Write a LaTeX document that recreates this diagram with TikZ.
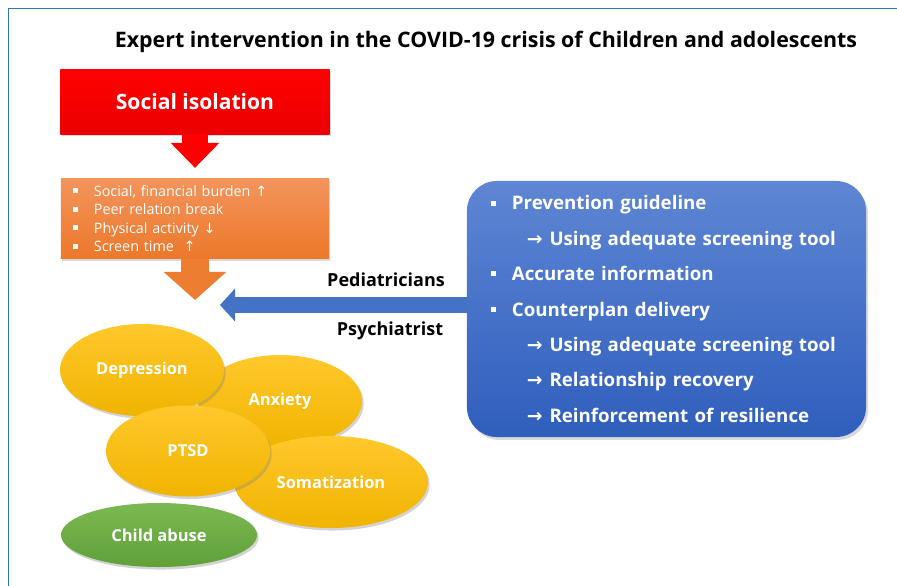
\documentclass[tikz,border=0pt]{standalone}
\usepackage{fontspec}
\setmainfont{Open Sans}
\newfontfamily\arrowfont{DejaVu Sans}
\usetikzlibrary{shapes.geometric, arrows.meta, positioning, shadows}

\definecolor{frameblue}{RGB}{46,117,182}
\definecolor{isored}{RGB}{255,0,0}
\definecolor{isoreddark}{RGB}{235,0,0}
\definecolor{burdentop}{RGB}{243,148,92}
\definecolor{burdenbottom}{RGB}{236,120,42}
\definecolor{burdenarrow}{RGB}{237,125,49}
\definecolor{guidetop}{RGB}{94,134,212}
\definecolor{guidebottom}{RGB}{47,94,188}
\definecolor{guidearrow}{RGB}{68,114,196}
\definecolor{symptomtop}{RGB}{255,200,44}
\definecolor{symptombottom}{RGB}{240,180,0}
\definecolor{abusetop}{RGB}{124,185,82}
\definecolor{abusebottom}{RGB}{96,160,56}

% small square bullet and the indented arrow for sub points
\newcommand{\sqitem}{\rule[0.22em]{3.6pt}{3.6pt}\hspace{11.3pt}}
\newcommand{\nextstep}{\hspace*{25.5pt}{\arrowfont\bfseries →}\hspace{5pt}}

\tikzset{
    symptom/.style={ellipse, inner sep=0pt, top color=symptomtop, bottom color=symptombottom, text=white, font=\bfseries\fontsize{11.7}{14}\selectfont, drop shadow={shadow xshift=1.2pt, shadow yshift=-1.8pt, opacity=0.35}},
    role/.style={font=\bfseries\fontsize{12.8}{15}\selectfont, text=black}
}

\begin{document}
\begin{tikzpicture}[x=0.025cm, y=-0.025cm]
    \useasboundingbox (0,0) rectangle (897,586);
    \draw[frameblue, line width=0.8pt] (8.5,586) -- (8.5,8.5) -- (897,8.5);

    \node[font=\bfseries\fontsize{15.2}{18}\selectfont] (title) at (486,42) {Expert intervention in the COVID-19 crisis of Children and adolescents};

    \node[top color=isored, bottom color=isoreddark, minimum width=6.725cm, minimum height=1.6cm, inner sep=0pt, text=white, font=\bfseries\fontsize{15}{18}\selectfont, drop shadow={shadow xshift=1pt, shadow yshift=-1.5pt, opacity=0.3}] (isolation) at (195,102) {Social isolation};
    \node[top color=burdentop, bottom color=burdenbottom, minimum width=6.7cm, minimum height=2cm, inner xsep=0.3cm, inner ysep=0pt, text width=6.1cm, align=left, text=white, font=\fontsize{10.2}{13.2}\selectfont, drop shadow={shadow xshift=1pt, shadow yshift=-1.5pt, opacity=0.3}, below=1.1cm of isolation] (burden) {\sqitem Social, financial burden {\arrowfont ↑}\\ \sqitem Peer relation break\\ \sqitem Physical activity {\arrowfont ↓}\\ \sqitem Screen time\ \ {\arrowfont ↑}};

    \node[top color=guidetop, bottom color=guidebottom, rounded corners=0.75cm, minimum width=9.975cm, minimum height=6.4cm, inner xsep=0.6cm, inner ysep=0pt, text width=8.775cm, align=left, text=white, font=\bfseries\fontsize{13.3}{25.2}\selectfont, drop shadow={shadow xshift=1.5pt, shadow yshift=-2pt, opacity=0.3}] (guide) at (666.5,309) {\sqitem Prevention guideline\\ \nextstep Using adequate screening tool\\ \sqitem Accurate information\\ \sqitem Counterplan delivery\\ \nextstep Using adequate screening tool\\ \nextstep Relationship recovery\\ \nextstep Reinforcement of resilience};

    % the five problems, back to front
    \node[symptom, minimum width=4.1cm, minimum height=2.3cm] (anxiety) at (280,401) {Anxiety};
    \node[symptom, minimum width=4.1cm, minimum height=2.3cm] (depression) at (142,370) {Depression};
    \node[symptom, minimum width=4.85cm, minimum height=2.3cm] (somatization) at (331,482) {Somatization};
    \node[symptom, minimum width=4.1cm, minimum height=2.275cm] (ptsd) at (188,451) {PTSD};
    \node[symptom, top color=abusetop, bottom color=abusebottom, minimum width=4.9cm, minimum height=1.6cm] (abuse) at (159,535) {Child abuse};

    \coordinate (symptoms) at (195,300);
    \coordinate (care) at (220,305);

    \draw[isored, line width=0.625cm, -{Triangle[length=0.625cm, width=1.175cm]}, shorten >=0.26cm] (isolation) -- (burden);
    \draw[burdenarrow, line width=0.7cm, -{Triangle[length=0.7cm, width=1.525cm]}] (burden) -- (symptoms);
    \draw[guidearrow, line width=0.4cm, -{Triangle[length=0.375cm, width=0.8cm]}] (guide.west |- care) -- (care);

    \node[role] (pediatricians) at (386,280) {Pediatricians};
    \node[role] (psychiatrist) at (390,331) {Psychiatrist};
\end{tikzpicture}
\end{document}
